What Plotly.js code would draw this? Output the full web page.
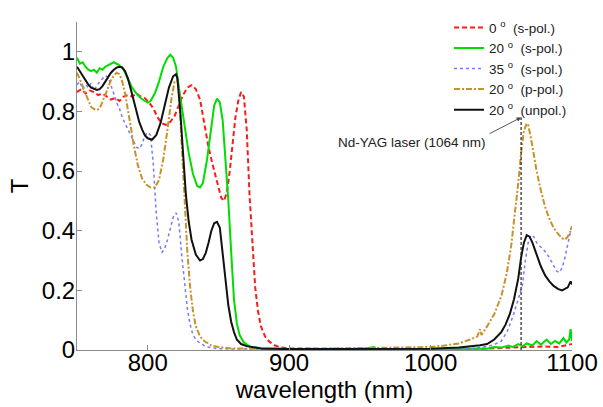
<!DOCTYPE html>
<html>
<head>
<meta charset="utf-8">
<script src="https://cdn.plot.ly/plotly-3.0.1.min.js"></script>
<style>html,body{margin:0;padding:0;background:#fff;}#chart{width:603px;height:407px;}</style>
</head>
<body>
<div id="chart"></div>
<script>
// ---- data ----
const seriesNames = ['0 <sup>o</sup>\u00a0 (s-pol.)', '20 <sup>o</sup>\u00a0 (s-pol.)', '35 <sup>o</sup>\u00a0 (s-pol.)', '20 <sup>o</sup>\u00a0 (p-pol.)', '20 <sup>o</sup>\u00a0 (unpol.)'];

const redX = [750,753,756,759,762,765,768,771,774,777,780,783,786,789,792,795,798,801,804,807,810,813,816,819,822,825,828,831,834,837,840,843,846,849,852,854,856,858,860,862,864,866,868,870,872,874,876,878,880,883,886,890,895,900,950,1000,1040,1060,1070,1080,1090,1095,1100];
const redY = [0.865,0.875,0.86,0.87,0.865,0.855,0.86,0.85,0.84,0.845,0.835,0.85,0.855,0.85,0.86,0.85,0.845,0.83,0.81,0.78,0.76,0.755,0.765,0.785,0.82,0.855,0.88,0.888,0.875,0.84,0.76,0.68,0.62,0.56,0.51,0.50,0.53,0.60,0.70,0.78,0.835,0.865,0.85,0.74,0.52,0.35,0.21,0.13,0.08,0.045,0.028,0.015,0.008,0.005,0.003,0.003,0.005,0.008,0.01,0.012,0.01,0.015,0.02];

const greenX = [750,752,754,756,758,760,762,764,766,768,770,772,774,776,778,780,783,786,789,792,795,798,800,802,805,808,811,814,816,818,820,823,826,829,832,835,837,839,842,845,847,849,851,853,855,857,859,861,863,865,868,872,880,900,950,960,962,1000,1040,1045,1050,1055,1058,1062,1065,1068,1072,1075,1078,1082,1085,1088,1091,1094,1096,1098,1099,1100];
const greenY = [0.98,0.96,0.965,0.95,0.94,0.935,0.94,0.93,0.945,0.94,0.95,0.955,0.96,0.965,0.96,0.955,0.94,0.91,0.88,0.86,0.845,0.835,0.83,0.835,0.86,0.9,0.95,0.98,0.99,0.98,0.95,0.85,0.75,0.66,0.59,0.55,0.545,0.56,0.64,0.76,0.82,0.843,0.83,0.77,0.64,0.50,0.33,0.17,0.09,0.05,0.025,0.012,0.006,0.003,0.002,0.01,0.002,0.002,0.004,0.01,0.008,0.015,0.01,0.02,0.012,0.022,0.015,0.03,0.018,0.035,0.02,0.03,0.022,0.04,0.025,0.035,0.07,0.03];

const blueX = [750,752,754,756,758,760,762,764,766,768,770,772,774,776,778,780,782,784,786,788,790,792,794,796,798,800,802,804,806,808,810,812,814,816,818,820,822,824,826,828,830,832,835,838,842,850,900,1000,1030,1040,1045,1050,1054,1058,1062,1065,1067,1069,1071,1073,1075,1078,1081,1084,1087,1089,1091,1093,1095,1097,1099,1100];
const blueY = [0.89,0.90,0.875,0.89,0.88,0.895,0.87,0.885,0.9,0.91,0.92,0.915,0.89,0.86,0.83,0.81,0.78,0.76,0.74,0.72,0.70,0.68,0.675,0.69,0.72,0.73,0.72,0.62,0.46,0.36,0.327,0.34,0.37,0.41,0.445,0.46,0.43,0.32,0.22,0.14,0.085,0.05,0.03,0.02,0.01,0.004,0.002,0.003,0.006,0.012,0.018,0.03,0.06,0.11,0.17,0.22,0.30,0.36,0.385,0.38,0.36,0.345,0.33,0.31,0.285,0.265,0.26,0.275,0.31,0.35,0.39,0.42];

const tanX = [750,752,754,756,758,760,762,764,766,768,770,772,774,776,778,780,782,784,786,788,790,793,796,799,802,805,808,811,814,817,819,821,822,824,826,828,830,832,834,837,840,845,850,860,900,1000,1010,1020,1028,1033,1035,1036,1040,1045,1050,1054,1057,1060,1062,1064,1066,1068,1069,1071,1073,1075,1078,1081,1084,1087,1090,1093,1095,1097,1099,1100];
const tanY = [0.93,0.91,0.885,0.86,0.835,0.815,0.808,0.805,0.81,0.83,0.855,0.88,0.905,0.92,0.93,0.925,0.9,0.86,0.81,0.75,0.69,0.62,0.575,0.555,0.545,0.545,0.57,0.64,0.74,0.85,0.90,0.905,0.88,0.70,0.50,0.33,0.21,0.13,0.08,0.045,0.03,0.015,0.01,0.005,0.003,0.01,0.015,0.022,0.035,0.045,0.07,0.05,0.08,0.12,0.18,0.26,0.35,0.47,0.56,0.66,0.735,0.76,0.755,0.71,0.65,0.60,0.535,0.48,0.44,0.41,0.39,0.375,0.37,0.38,0.40,0.415];

const blackX = [750,752,754,756,758,760,762,764,766,768,770,772,774,776,778,780,782,784,786,788,790,792,794,796,798,800,803,806,809,812,815,818,820,821,823,825,827,829,831,834,837,839,841,843,845,847,849,851,853,855,857,859,861,863,866,870,875,880,900,1000,1020,1030,1035,1040,1045,1050,1053,1056,1059,1062,1064,1066,1068,1070,1072,1075,1078,1081,1084,1087,1090,1093,1095,1097,1099,1100];
const blackY = [0.95,0.935,0.92,0.905,0.89,0.88,0.875,0.872,0.875,0.885,0.9,0.915,0.93,0.94,0.947,0.95,0.948,0.935,0.91,0.875,0.835,0.795,0.765,0.74,0.72,0.71,0.705,0.72,0.76,0.82,0.88,0.918,0.925,0.91,0.80,0.66,0.52,0.43,0.37,0.32,0.30,0.305,0.325,0.36,0.40,0.425,0.43,0.41,0.33,0.24,0.15,0.095,0.06,0.035,0.02,0.013,0.008,0.005,0.003,0.004,0.008,0.012,0.016,0.02,0.035,0.06,0.085,0.12,0.17,0.24,0.31,0.36,0.385,0.38,0.36,0.32,0.28,0.25,0.23,0.215,0.205,0.2,0.205,0.21,0.23,0.22];

const laserNm = 1064;
const laserTop = 0.78;
const xTicks = [800, 900, 1000, 1100];
const yTicks = [0, 0.2, 0.4, 0.6, 0.8, 1];
const yTickText = ['0', '0.2', '0.4', '0.6', '0.8', '1'];

// ---- chart ----
const FONT = 'Liberation Sans, Arial, sans-serif';
const traces = [
  {x: redX, y: redY, name: seriesNames[0], line: {color: '#ff1a1a', width: 2, dash: '5px,3px'}},
  {x: greenX, y: greenY, name: seriesNames[1], line: {color: '#00dd00', width: 2}},
  {x: blueX, y: blueY, name: seriesNames[2], line: {color: '#7878ff', width: 1.5, dash: 'dot'}},
  {x: tanX, y: tanY, name: seriesNames[3], line: {color: '#c8922a', width: 2, dash: '6px,2px,2px,2px'}},
  {x: blackX, y: blackY, name: seriesNames[4], line: {color: '#111111', width: 2}}
].map(t => Object.assign({type: 'scatter', mode: 'lines', hoverinfo: 'skip'}, t));

const axisCommon = {
  showline: true, linecolor: '#8a8a8a', linewidth: 1,
  ticks: 'inside', ticklen: 5, tickcolor: '#8a8a8a',
  showgrid: false, zeroline: false,
  tickfont: {family: FONT, size: 24, color: '#000'}
};

const layout = {
  width: 603, height: 407,
  margin: {l: 77, r: 31, t: 13, b: 57},
  paper_bgcolor: '#fff', plot_bgcolor: '#fff',
  font: {family: FONT},
  showlegend: true,
  legend: {
    x: 1.0, xanchor: 'right', y: 1.03, yanchor: 'top',
    bgcolor: 'rgba(0,0,0,0)', borderwidth: 0,
    font: {family: FONT, size: 13.5, color: '#222'}
  },
  xaxis: Object.assign({}, axisCommon, {
    range: [750, 1100], tickvals: xTicks, ticklabelstandoff: -9,
    title: {text: 'wavelength (nm)', font: {family: FONT, size: 24, color: '#000'}, standoff: 0}
  }),
  yaxis: Object.assign({}, axisCommon, {
    range: [0, 1.1], tickvals: yTicks, ticktext: yTickText, ticklabelstandoff: -4,
    title: {text: 'T', font: {family: FONT, size: 24, color: '#000'}, standoff: 6}
  }),
  shapes: [{
    type: 'line', xref: 'x', yref: 'y', x0: laserNm, x1: laserNm, y0: 0, y1: laserTop,
    line: {color: '#222', width: 1.2, dash: '3px,2px'}
  }],
  annotations: [
    {xref: 'x', yref: 'y', x: laserNm, y: laserTop, text: '', showarrow: true,
     ax: -33, ay: 17, arrowhead: 2, arrowsize: 1, arrowwidth: 0.9, arrowcolor: '#444', standoff: 0},
    {xref: 'paper', yref: 'paper', x: 0.677, y: 0.632, text: 'Nd-YAG laser (1064 nm)', showarrow: false,
     xanchor: 'center', yanchor: 'middle', font: {family: FONT, size: 13.5, color: '#222'}}
  ]
};

Plotly.newPlot('chart', traces, layout, {displayModeBar: false, staticPlot: true});
</script>
</body>
</html>
